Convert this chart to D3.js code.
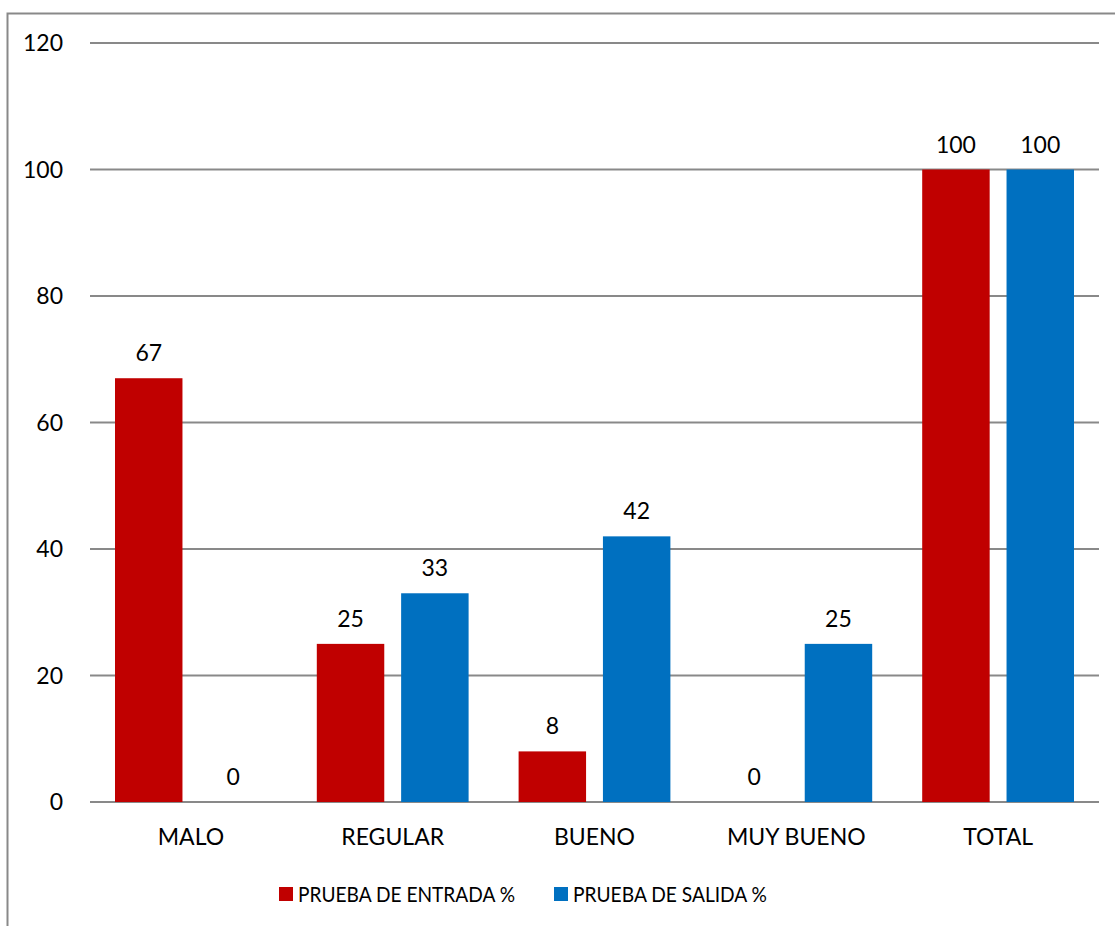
<!DOCTYPE html>
<html>
<head>
<meta charset="utf-8">
<script src="https://cdn.jsdelivr.net/npm/d3@7"></script>
<style>
  html, body { margin: 0; padding: 0; background: #fff; }
  svg { display: block; font-family: Lato, "Open Sans", sans-serif; }
</style>
</head>
<body>
<svg id="chart"></svg>
<script>
const categories = ['MALO', 'REGULAR', 'BUENO', 'MUY BUENO', 'TOTAL']
const seriesNames = ['PRUEBA DE ENTRADA %', 'PRUEBA DE SALIDA %']
const entrada = [67, 25, 8, 0, 100]
const salida = [0, 33, 42, 25, 100]
const yTicks = [0, 20, 40, 60, 80, 100, 120]

const colors = ['#c00000', '#0070c0']
const w = 1115
const h = 926
const plotLeft = 90
const plotRight = 1099
const plotTop = 43
const plotBottom = 802

const svg = d3.select('#chart')
  .attr('width', w)
  .attr('height', h)

// chart frame
svg.append('path')
  .attr('d', `M7.5,${h + 2} V13.5 H${w + 2}`)
  .attr('fill', 'none')
  .attr('stroke', '#898989')
  .attr('stroke-width', 2)

const xScale = d3.scaleBand()
  .domain(categories)
  .range([plotLeft, plotRight])
  .paddingInner(0)
  .paddingOuter(0)

const inner = d3.scaleBand()
  .domain([0, 1])
  .range([25, xScale.bandwidth() - 25])
  .paddingInner(0.2)

const yScale = d3.scaleLinear()
  .domain([0, 120])
  .range([plotBottom, plotTop])

// gridlines
svg.append('g')
  .selectAll('line')
  .data(yTicks)
  .enter()
  .append('line')
  .attr('x1', plotLeft)
  .attr('x2', plotRight)
  .attr('y1', d => yScale(d))
  .attr('y2', d => yScale(d))
  .attr('stroke', '#898989')
  .attr('stroke-width', 2)

// y tick labels
svg.append('g')
  .selectAll('text')
  .data(yTicks)
  .enter()
  .append('text')
  .attr('x', 63)
  .attr('y', d => yScale(d) + 8)
  .attr('text-anchor', 'end')
  .style('font-size', '23px')
  .attr('fill', '#000')
  .text(d => d)

const rows = categories.map((c, i) => [entrada[i], salida[i]])

const groups = svg.append('g')
  .selectAll('g')
  .data(rows)
  .enter()
  .append('g')
  .attr('transform', (d, i) => `translate(${xScale(categories[i])},0)`)

groups.selectAll('rect')
  .data(d => d)
  .enter()
  .append('rect')
  .attr('x', (d, j) => inner(j))
  .attr('width', inner.bandwidth())
  .attr('y', d => yScale(d))
  .attr('height', d => plotBottom - yScale(d))
  .attr('fill', (d, j) => colors[j])

groups.selectAll('text')
  .data(d => d)
  .enter()
  .append('text')
  .attr('x', (d, j) => inner(j) + inner.bandwidth() / 2)
  .attr('y', d => yScale(d) - 17)
  .attr('text-anchor', 'middle')
  .style('font-size', '23px')
  .attr('fill', '#000')
  .text(d => d)

// category labels
svg.append('g')
  .selectAll('text')
  .data(categories)
  .enter()
  .append('text')
  .attr('x', d => xScale(d) + xScale.bandwidth() / 2)
  .attr('y', 845)
  .attr('text-anchor', 'middle')
  .style('font-size', '23px')
  .attr('fill', '#000')
  .text(d => d)

// legend (Calibri-like narrow text, squeezed to the original widths)
const legendX = [279, 554]
const legendTextW = [217, 194]
const legend = svg.append('g')
  .selectAll('g')
  .data(seriesNames)
  .enter()
  .append('g')
  .attr('transform', (d, i) => `translate(${legendX[i]},887)`)

legend.append('rect')
  .attr('width', 14)
  .attr('height', 14)
  .attr('fill', (d, i) => colors[i])

legend.append('text')
  .attr('x', 19)
  .attr('y', 15)
  .attr('textLength', (d, i) => legendTextW[i])
  .attr('lengthAdjust', 'spacingAndGlyphs')
  .style('font-size', '21px')
  .attr('fill', '#000')
  .text(d => d)
</script>
</body>
</html>
